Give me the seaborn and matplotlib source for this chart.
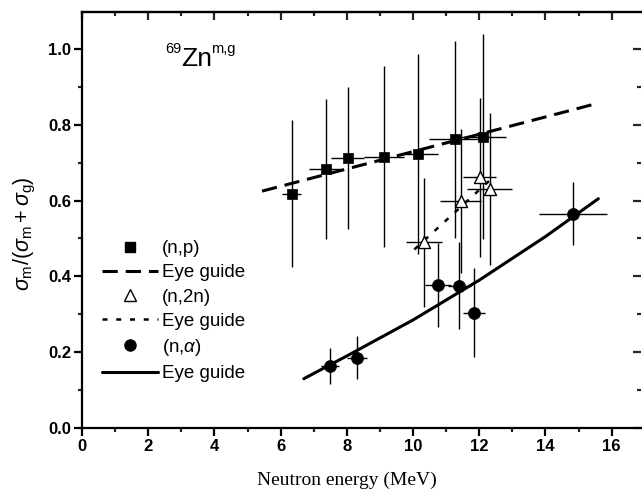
import matplotlib
matplotlib.use("Agg")
import matplotlib.pyplot as plt
from matplotlib.lines import Line2D
import seaborn as sns

# ---- data ----
np_E = [6.33, 7.36, 8.03, 9.12, 10.15, 11.28, 12.10]
np_R = [0.618, 0.683, 0.712, 0.716, 0.723, 0.762, 0.769]
np_dR = [0.194, 0.185, 0.187, 0.238, 0.264, 0.26, 0.27]
np_dE = [0.30, 0.50, 0.50, 0.60, 0.60, 0.80, 0.70]

n2n_E = [10.34, 11.44, 12.02, 12.32]
n2n_R = [0.490, 0.600, 0.662, 0.630]
n2n_dR = [0.17, 0.19, 0.21, 0.20]
n2n_dE = [0.55, 0.62, 0.50, 0.68]

na_E = [7.48, 8.30, 10.75, 11.40, 11.84, 14.84]
na_R = [0.164, 0.186, 0.377, 0.375, 0.304, 0.565]
na_dR = [0.048, 0.058, 0.11, 0.115, 0.117, 0.083]
na_dE = [0.27, 0.30, 0.40, 0.35, 0.33, 1.02]

# eye guides
guide_np_E = [5.44, 15.50]
guide_np_R = [0.625, 0.855]
guide_n2n_E = [10.04, 12.40]
guide_n2n_R = [0.471, 0.660]
guide_na_E = [6.7, 8.0, 10.0, 12.0, 14.0, 15.6]
guide_na_R = [0.130, 0.190, 0.285, 0.390, 0.505, 0.605]

x_major = [0, 2, 4, 6, 8, 10, 12, 14, 16]
x_minor = [1, 3, 5, 7, 9, 11, 13, 15]
y_major = [0.0, 0.2, 0.4, 0.6, 0.8, 1.0]
y_minor = [0.1, 0.3, 0.5, 0.7, 0.9]
y_labels = ["0.0", "0.2", "0.4", "0.6", "0.8", "1.0"]

legend_labels = ["(n,p)", "Eye guide", "(n,2n)", "Eye guide", r"(n,$\alpha$)", "Eye guide"]

sns.set_theme(style="ticks")
plt.rcParams["font.family"] = ["Liberation Sans", "DejaVu Sans"]
plt.rcParams["mathtext.fontset"] = "custom"
plt.rcParams["mathtext.rm"] = "Liberation Sans"
plt.rcParams["mathtext.it"] = "Liberation Sans:italic"
plt.rcParams["mathtext.bf"] = "Liberation Sans:bold"

W, H = 642, 498
fig = plt.figure(figsize=(W / 100, H / 100), dpi=100)
ax = fig.add_axes([82 / W, 70 / H, (641 - 82) / W, (428 - 12) / H])

# error bars
ekw = dict(fmt="none", ecolor="black", elinewidth=1.0, capsize=0, zorder=2)
ax.errorbar(np_E, np_R, yerr=np_dR, xerr=np_dE, **ekw)
ax.errorbar(n2n_E, n2n_R, yerr=n2n_dR, xerr=n2n_dE, **ekw)
ax.errorbar(na_E, na_R, yerr=na_dR, xerr=na_dE, **ekw)

DASH = (5.0, 2.6)
DOT = (2.0, 3.5)
# eye guides
sns.lineplot(x=guide_np_E, y=guide_np_R, ax=ax, color="black", lw=2.2, zorder=3)
ax.lines[-1].set_dashes(DASH)
sns.lineplot(x=guide_n2n_E, y=guide_n2n_R, ax=ax, color="black", lw=1.8, zorder=3)
ax.lines[-1].set_dashes(DOT)
sns.lineplot(x=guide_na_E, y=guide_na_R, ax=ax, color="black", lw=2.2, zorder=3)

# markers
sns.scatterplot(x=np_E, y=np_R, ax=ax, marker="s", s=55, color="black",
                edgecolor="black", linewidth=0.5, zorder=4)
sns.scatterplot(x=n2n_E, y=n2n_R, ax=ax, marker="^", s=75, facecolor="white",
                edgecolor="black", linewidth=1.0, zorder=4)
sns.scatterplot(x=na_E, y=na_R, ax=ax, marker="o", s=75, color="black",
                edgecolor="black", linewidth=0.5, zorder=4)

ax.set_xlim(0, 559 / 33.1)
ax.set_ylim(0, 416 / 379)
ax.set_xticks(x_major)
ax.set_xticks(x_minor, minor=True)
ax.set_yticks(y_major)
ax.set_yticks(y_minor, minor=True)
ax.set_yticklabels(y_labels)

for s in ax.spines.values():
    s.set_linewidth(1.6)
    s.set_color("black")
ax.spines["right"].set_visible(False)

ax.tick_params(axis="both", which="major", direction="out", length=6, width=1.6,
               labelsize=12, colors="black", pad=2)
ax.tick_params(axis="both", which="minor", direction="out", length=3, width=1.6)
for lab in ax.get_xticklabels() + ax.get_yticklabels():
    lab.set_fontweight("bold")

top = ax.secondary_xaxis("top")
top.set_xticks(x_major)
top.set_xticks(x_minor, minor=True)
top.tick_params(which="major", direction="in", length=6, width=1.6, labeltop=False)
top.tick_params(which="minor", direction="in", length=3, width=1.6)
top.spines["top"].set_linewidth(1.6)

right = ax.secondary_yaxis("right")
right.set_yticks(y_major)
right.set_yticks(y_minor, minor=True)
right.tick_params(which="major", direction="in", length=6, width=1.6, labelright=False)
right.tick_params(which="minor", direction="in", length=3, width=1.6)
right.spines["right"].set_visible(False)

ax.set_xlabel("Neutron energy (MeV)", fontsize=14, family=["Liberation Serif"],
              color="black")
ax.xaxis.set_label_coords(0.474, -0.105)
ax.set_ylabel(r"$\sigma_\mathrm{m}/(\sigma_\mathrm{m}+\sigma_\mathrm{g})$", fontsize=15.5,
              color="black")
ax.yaxis.set_label_coords((38 - 82) / 559, (428 - 234) / 416)


def px(x, y):
    return x / W, 1 - y / H


fig.text(*px(165, 53), "69", fontsize=10.5, color="black", va="baseline", ha="left")
fig.text(*px(181.5, 65.7), "Zn", fontsize=19, color="black", va="baseline", ha="left")
fig.text(*px(211.5, 53), "m,g", fontsize=10.5, color="black", va="baseline", ha="left")

handles = [
    Line2D([], [], ls="none", marker="s", ms=7, color="black"),
    Line2D([], [], color="black", lw=2.2, dashes=DASH),
    Line2D([], [], ls="none", marker="^", ms=8, mfc="white", mec="black", mew=1.0),
    Line2D([], [], color="black", lw=1.8, dashes=DOT),
    Line2D([], [], ls="none", marker="o", ms=8, color="black"),
    Line2D([], [], color="black", lw=2.2),
]
leg = ax.legend(handles, legend_labels, loc="upper left",
                bbox_to_anchor=((102 - 82) / 559, (428 - 240) / 416),
                frameon=False, fontsize=13.5, handlelength=3.0, handletextpad=0.2,
                labelspacing=0.38, borderpad=0, borderaxespad=0)
for t in leg.get_texts():
    t.set_color("black")

fig.savefig("out.png", dpi=100)
